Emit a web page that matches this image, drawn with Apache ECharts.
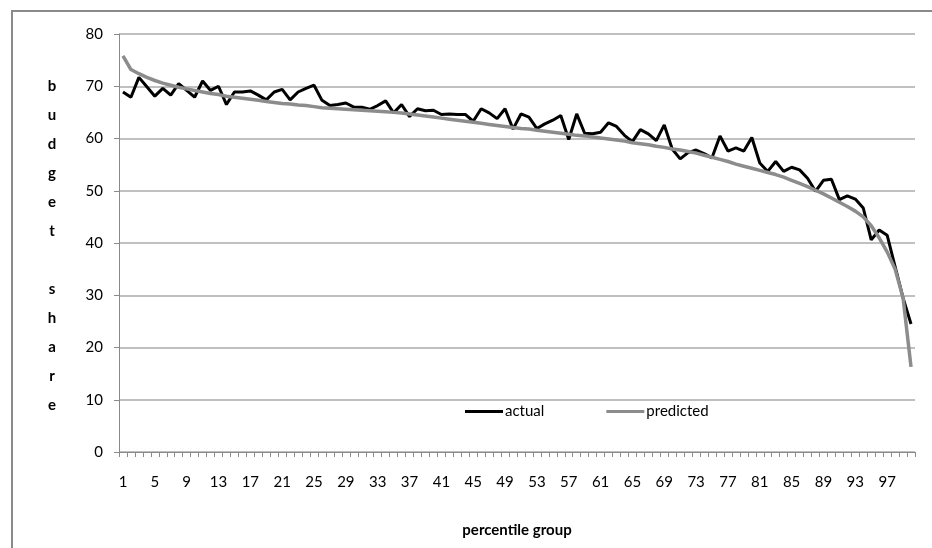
<!DOCTYPE html>
<html>
<head>
<meta charset="utf-8">
<script src="https://cdn.jsdelivr.net/npm/echarts@6/dist/echarts.min.js"></script>
<style>
  html, body { margin: 0; padding: 0; background: #ffffff; }
  #chart { width: 932px; height: 548px; }
</style>
</head>
<body>
<div id="chart"></div>
<script>
// Percentile groups 1..100
const groups = Array.from({ length: 100 }, (_, i) => String(i + 1));

// Observed budget share by percentile group
const actual = [
  68.9, 67.9, 71.7, 69.9, 68.1, 69.6, 68.3, 70.5, 69.2, 67.9,
  71.0, 69.2, 70.0, 66.5, 68.9, 68.9, 69.1, 68.3, 67.4, 68.9,
  69.4, 67.4, 68.9, 69.6, 70.2, 67.3, 66.3, 66.5, 66.8, 66.0,
  66.0, 65.6, 66.3, 67.2, 64.9, 66.5, 64.2, 65.7, 65.3, 65.4,
  64.6, 64.7, 64.6, 64.6, 63.3, 65.7, 64.9, 63.8, 65.7, 61.8,
  64.7, 64.1, 61.9, 62.8, 63.5, 64.4, 59.8, 64.7, 61.0, 60.9,
  61.2, 63.0, 62.3, 60.6, 59.4, 61.7, 60.9, 59.6, 62.6, 58.0,
  56.1, 57.3, 57.8, 57.1, 56.3, 60.5, 57.6, 58.2, 57.6, 60.2,
  55.3, 53.7, 55.6, 53.7, 54.5, 54.0, 52.4, 49.9, 52.0, 52.2,
  48.3, 49.0, 48.4, 46.7, 40.6, 42.5, 41.5, 35.5, 29.5, 24.5
];

// Model prediction by percentile group
const predicted = [
  75.8, 73.2, 72.4, 71.7, 71.1, 70.6, 70.2, 69.8, 69.5, 69.2,
  68.9, 68.6, 68.4, 68.1, 67.9, 67.7, 67.5, 67.3, 67.1, 66.9,
  66.7, 66.6, 66.4, 66.3, 66.1, 65.9, 65.8, 65.7, 65.6, 65.5,
  65.4, 65.3, 65.2, 65.1, 65.0, 64.9, 64.7, 64.5, 64.3, 64.1,
  63.9, 63.7, 63.5, 63.3, 63.1, 62.9, 62.7, 62.5, 62.3, 62.1,
  61.9, 61.8, 61.6, 61.4, 61.2, 61.0, 60.8, 60.6, 60.5, 60.3,
  60.1, 59.9, 59.7, 59.5, 59.2, 59.0, 58.8, 58.5, 58.3, 58.0,
  57.8, 57.5, 57.2, 56.8, 56.4, 56.0, 55.6, 55.1, 54.7, 54.3,
  53.9, 53.5, 53.1, 52.6, 52.0, 51.4, 50.8, 50.1, 49.4, 48.6,
  47.8, 47.0, 46.1, 45.0, 43.3, 41.0, 38.3, 35.0, 29.5, 16.3
];

const FONT = 'Lato, "Open Sans", sans-serif';

const chart = echarts.init(document.getElementById('chart'), null, { renderer: 'canvas' });

chart.setOption({
  backgroundColor: '#ffffff',
  animation: false,
  textStyle: { fontFamily: FONT },
  grid: { left: 119, top: 34, width: 796, height: 418, containLabel: false },
  graphic: [
    {
      type: 'rect',
      shape: { x: 12, y: 11, width: 940, height: 560 },
      style: { fill: 'none', stroke: '#8a8a8a', lineWidth: 2 },
      silent: true
    },
    {
      type: 'text',
      x: 52,
      y: 246,
      style: {
        text: 'b\nu\nd\ng\ne\nt\n\ns\nh\na\nr\ne',
        fontFamily: FONT,
        fontSize: 15,
        fontWeight: 'bold',
        lineHeight: 29,
        fill: '#000000',
        align: 'center',
        verticalAlign: 'middle'
      }
    }
  ],
  legend: {
    left: 460,
    top: 399,
    itemWidth: 38,
    itemHeight: 14,
    itemGap: 62,
    icon: 'path://M0,6 L38,6 L38,9 L0,9 Z',
    textStyle: { fontFamily: FONT, fontSize: 15, color: '#000000', padding: [0, 0, 0, -3] },
    data: ['actual', 'predicted']
  },
  xAxis: {
    type: 'category',
    data: groups,
    boundaryGap: true,
    name: 'percentile group',
    nameLocation: 'middle',
    nameGap: 71,
    nameTextStyle: { fontFamily: FONT, fontSize: 15, fontWeight: 'bold', color: '#000000' },
    axisLine: { lineStyle: { color: '#8a8a8a', width: 1 } },
    axisTick: { show: true, interval: 0, length: 5, lineStyle: { color: '#8a8a8a' } },
    axisLabel: { interval: 3, margin: 23, fontSize: 15, color: '#000000', fontFamily: FONT },
    splitLine: { show: false }
  },
  yAxis: {
    type: 'value',
    min: 0,
    max: 80,
    interval: 10,
    axisLine: { show: true, lineStyle: { color: '#8a8a8a', width: 1 } },
    axisTick: { show: true, length: 5, lineStyle: { color: '#8a8a8a' } },
    axisLabel: { margin: 16, fontSize: 15, color: '#000000', fontFamily: FONT },
    splitLine: { show: true, lineStyle: { color: '#ababab', width: 1.5 } }
  },
  series: [
    {
      name: 'actual',
      type: 'line',
      data: actual,
      symbol: 'none',
      smooth: false,
      lineStyle: { color: '#000000', width: 3 },
      itemStyle: { color: '#000000' },
      z: 2
    },
    {
      name: 'predicted',
      type: 'line',
      data: predicted,
      symbol: 'none',
      smooth: false,
      lineStyle: { color: '#8c8c8c', width: 3.5 },
      itemStyle: { color: '#8c8c8c' },
      z: 3
    }
  ]
});
</script>
</body>
</html>
